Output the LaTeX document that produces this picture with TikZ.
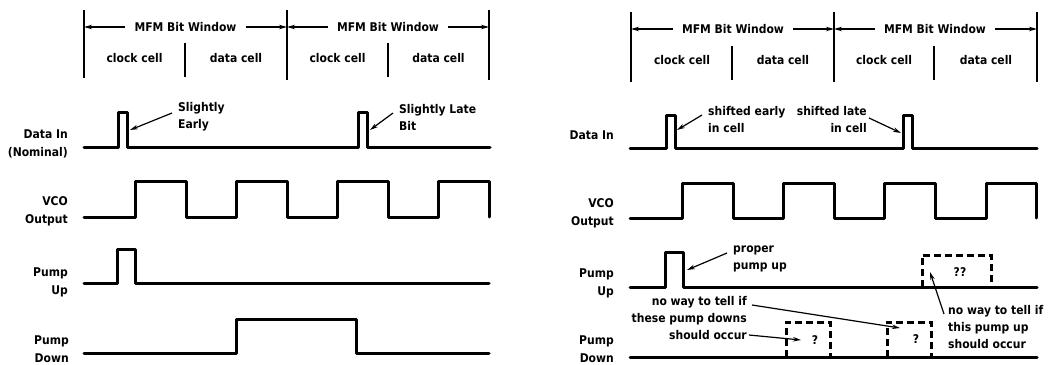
\documentclass[tikz,border=0pt]{standalone}
\usepackage{fontspec}
\setmainfont{DejaVu Sans}[FakeStretch=0.9]
\usetikzlibrary{arrows.meta}
\begin{document}
\begin{tikzpicture}[x=1pt,y=-1pt,
  txt/.style={font=\bfseries\fontsize{12}{17}\selectfont, inner sep=0pt},
  hdr/.style={txt, inner xsep=9pt},
  lbl/.style={inner sep=0pt, align=right, anchor=east, font=\bfseries\fontsize{12}{18}\selectfont},
  wave/.style={line width=3pt, line join=round, line cap=round},
  dbox/.style={line width=3pt, dash pattern=on 7pt off 4pt},
  frame/.style={line width=1.4pt},
  arr/.style={line width=1.2pt, -{Stealth[length=8pt,width=4.5pt]}},
]
\useasboundingbox (0,0) rectangle (1054,364);

% ---------------- LEFT PANEL ----------------
\draw[frame] (84,10) -- (84,78);
\draw[frame] (287,10) -- (287,80);
\draw[frame] (489,10) -- (489,80);
\draw[frame] (185,43) -- (185,77);
\draw[frame] (388,43) -- (388,77);
\coordinate (LA) at (84,27);
\coordinate (LB) at (287,27);
\coordinate (LC) at (489,27);
\node[hdr] (lw1) at (185.5,27) {MFM Bit Window};
\node[hdr] (lw2) at (388,27) {MFM Bit Window};
\draw[arr] (lw1.west) -- (LA);
\draw[arr] (lw1.east) -- (LB);
\draw[arr] (lw2.west) -- (LB);
\draw[arr] (lw2.east) -- (LC);
\node[txt] (lc1) at (134.5,58) {clock cell};
\node[txt] (ld1) at (236,58) {data cell};
\node[txt] (lc2) at (337.5,58) {clock cell};
\node[txt] (ld2) at (438.5,58) {data cell};

\node[lbl] (ldi) at (68,144) {Data In\\(Nominal)};
\node[lbl] (lvco) at (68,211) {VCO\\Output};
\node[lbl] (lpu) at (68,282) {Pump\\Up};
\node[lbl] (lpd) at (69,349) {Pump\\Down};

\draw[wave] (84,147) -- (118,147) -- (118,112) -- (127,112) -- (127,147) -- (358,147) -- (358,112) -- (367,112) -- (367,147) -- (490,147);
\draw[wave] (84,217) -- (135,217) -- (135,181) -- (186,181) -- (186,217) -- (236,217) -- (236,181) -- (287,181) -- (287,217) -- (337,217) -- (337,181) -- (388,181) -- (388,217) -- (438,217) -- (438,181) -- (489,181) -- (489,217);
\draw[wave] (84,283) -- (117,283) -- (117,249) -- (135,249) -- (135,283) -- (489,283);
\draw[wave] (84,353) -- (236,353) -- (236,319) -- (356,319) -- (356,353) -- (489,353);

\node[txt, align=left, anchor=west] (se) at (178,116.5) {Slightly\\Early};
\coordinate (seS) at (172,113);
\coordinate (seE) at (130,130);
\draw[arr] (seS) -- (seE);
\node[txt, align=left, anchor=west] (sl) at (399,117) {Slightly Late\\Bit};
\coordinate (slS) at (393,113);
\coordinate (slE) at (370,130);
\draw[arr] (slS) -- (slE);

% ---------------- RIGHT PANEL ----------------
\draw[frame] (631,12) -- (631,82);
\draw[frame] (834,12) -- (834,82);
\draw[frame] (1037,12) -- (1037,82);
\draw[frame] (732,46) -- (732,80);
\draw[frame] (934,46) -- (934,80);
\coordinate (RA) at (631,29);
\coordinate (RB) at (834,29);
\coordinate (RC) at (1037,29);
\node[hdr] (rw1) at (733,29) {MFM Bit Window};
\node[hdr] (rw2) at (935,29) {MFM Bit Window};
\draw[arr] (rw1.west) -- (RA);
\draw[arr] (rw1.east) -- (RB);
\draw[arr] (rw2.west) -- (RB);
\draw[arr] (rw2.east) -- (RC);
\node[txt] (rc1) at (682,60) {clock cell};
\node[txt] (rd1) at (783,60) {data cell};
\node[txt] (rc2) at (884,60) {clock cell};
\node[txt] (rd2) at (986,60) {data cell};

\node[lbl] (rdi) at (614,135) {Data In};
\node[lbl] (rvco) at (614,213) {VCO\\Output};
\node[lbl] (rpu) at (614,283) {Pump\\Up};
\node[lbl] (rpd) at (614,349) {Pump\\Down};

\draw[wave] (630,148) -- (666,148) -- (666,115) -- (675,115) -- (675,148) -- (903,148) -- (903,115) -- (912,115) -- (912,148) -- (1037,148);
\draw[wave] (630,218) -- (682,218) -- (682,183) -- (733,183) -- (733,218) -- (783,218) -- (783,183) -- (834,183) -- (834,218) -- (884,218) -- (884,183) -- (935,183) -- (935,218) -- (986,218) -- (986,183) -- (1036,183) -- (1036,218);
\draw[wave] (630,287) -- (665,287) -- (665,252) -- (683,252) -- (683,287) -- (1037,287);
\draw[wave] (630,357) -- (1037,357);
\draw[dbox] (922,287) -- (922,255) -- (991,255) -- (991,287);
\draw[dbox] (786,357) -- (786,322) -- (830,322) -- (830,357);
\draw[dbox] (887,357) -- (887,322) -- (931,322) -- (931,357);
\node[txt] (q2) at (960,272) {??};
\node[txt] (q1a) at (815,340) {?};
\node[txt] (q1b) at (916,339) {?};

\node[txt, align=left, anchor=west] (shE) at (708,120) {shifted early\\in cell};
\coordinate (shES) at (702,115);
\coordinate (shEE) at (677,130);
\draw[arr] (shES) -- (shEE);
\node[txt, align=right, anchor=east] (shL) at (867,120) {shifted late\\in cell};
\coordinate (shLS) at (869,118);
\coordinate (shLE) at (901,133);
\draw[arr] (shLS) -- (shLE);

\node[txt, align=left, anchor=west] (pp) at (733,259) {proper\\pump up};
\coordinate (ppS) at (727,253);
\coordinate (ppE) at (687,270);
\draw[arr] (ppS) -- (ppE);

\node[txt, align=right, anchor=east] (nwd) at (747,318.5) {no way to tell if\\these pump downs\\should occur};
\coordinate (nwdS1) at (752,305);
\coordinate (nwdE1) at (900,328);
\draw[arr] (nwdS1) -- (nwdE1);
\coordinate (nwdS2) at (749,335);
\coordinate (nwdE2) at (801,340);
\draw[arr] (nwdS2) -- (nwdE2);

\node[txt, align=left, anchor=west] (nwu) at (948,327) {no way to tell if\\this pump up\\should occur};
\coordinate (nwuS) at (944,314);
\coordinate (nwuE) at (930,272);
\draw[arr] (nwuS) -- (nwuE);
\end{tikzpicture}
\end{document}
